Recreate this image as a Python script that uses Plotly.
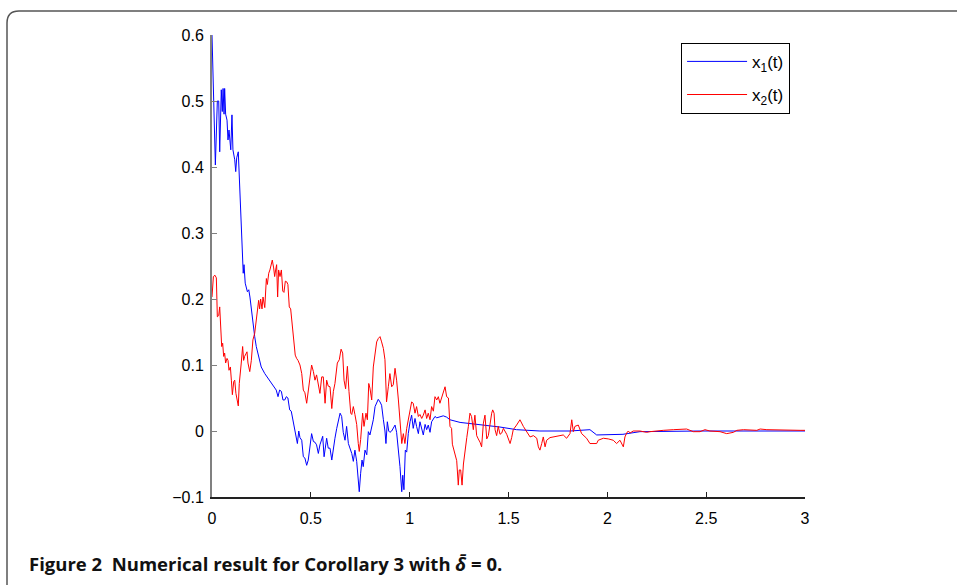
import plotly.graph_objects as go

# ---- data ----
t1 = [0.000, 0.010, 0.017, 0.027, 0.034, 0.039, 0.047, 0.052, 0.056, 0.061, 0.064, 0.069, 0.076, 0.081, 0.086,
      0.095, 0.101, 0.106, 0.115, 0.120, 0.125, 0.133, 0.140, 0.145, 0.148, 0.155, 0.158, 0.162, 0.168, 0.179,
      0.186, 0.192, 0.199, 0.207, 0.216, 0.224, 0.233, 0.249, 0.267, 0.283, 0.300, 0.317, 0.325, 0.334, 0.342,
      0.351, 0.359, 0.368, 0.376, 0.384, 0.393, 0.401, 0.410, 0.421, 0.432, 0.439, 0.445, 0.454, 0.462, 0.470,
      0.479, 0.487, 0.496, 0.504, 0.513, 0.521, 0.529, 0.538, 0.546, 0.555, 0.560, 0.567, 0.572, 0.580, 0.588,
      0.597, 0.606, 0.614, 0.622, 0.631, 0.639, 0.648, 0.656, 0.664, 0.673, 0.681, 0.690, 0.698, 0.707, 0.715,
      0.723, 0.732, 0.740, 0.745, 0.752, 0.759, 0.765, 0.774, 0.783, 0.791, 0.799, 0.808, 0.816, 0.825, 0.833,
      0.841, 0.850, 0.858, 0.867, 0.875, 0.880, 0.887, 0.894, 0.900, 0.909, 0.917, 0.926, 0.934, 0.943, 0.951,
      0.960, 0.965, 0.971, 0.978, 0.985, 0.993, 1.002, 1.010, 1.018, 1.027, 1.035, 1.044, 1.052, 1.061, 1.069,
      1.078, 1.086, 1.094, 1.103, 1.111, 1.120, 1.128, 1.137, 1.153, 1.170, 1.187, 1.204, 1.255, 1.320, 1.406,
      1.457, 1.541, 1.659, 1.811, 1.912, 1.946, 2.079, 2.165, 2.469, 3.000]
x1 = [0.600, 0.452, 0.403, 0.500, 0.500, 0.423, 0.517, 0.484, 0.519, 0.480, 0.519, 0.480, 0.471, 0.441, 0.456,
      0.426, 0.479, 0.426, 0.411, 0.393, 0.414, 0.423, 0.370, 0.320, 0.315, 0.259, 0.239, 0.252, 0.224, 0.211,
      0.214, 0.203, 0.183, 0.163, 0.143, 0.128, 0.115, 0.097, 0.087, 0.080, 0.072, 0.065, 0.062, 0.052, 0.062,
      0.060, 0.047, 0.047, 0.052, 0.050, 0.032, 0.030, 0.017, -0.004, -0.019, 0.000, -0.010, -0.014, -0.039, -0.041,
      -0.052, -0.044, -0.024, -0.004, -0.016, -0.017, -0.021, -0.034, -0.021, -0.011, -0.008, -0.039, -0.024, -0.011, -0.026,
      -0.026, -0.044, -0.024, -0.011, 0.004, 0.014, 0.027, 0.022, -0.002, -0.014, 0.007, -0.019, -0.026, -0.034, -0.046,
      -0.029, -0.046, -0.074, -0.092, -0.064, -0.044, -0.054, -0.029, -0.036, -0.001, -0.006, 0.007, 0.017, 0.037, 0.044,
      0.048, 0.044, 0.039, 0.017, 0.000, -0.019, 0.014, 0.000, -0.002, 0.000, 0.004, 0.009, -0.002, -0.026, -0.054,
      -0.092, -0.067, -0.089, -0.029, -0.032, -0.004, 0.014, 0.024, 0.004, 0.019, 0.007, -0.004, 0.014, 0.005, -0.006,
      0.010, 0.002, 0.009, -0.002, 0.014, 0.019, 0.022, 0.020, 0.021, 0.023, 0.021, 0.017, 0.013, 0.011, 0.008,
      0.006, 0.002, 0.000, 0.000, 0.002, -0.006, -0.005, -0.001, 0.000, 0.000]

t2 = [0.000, 0.007, 0.015, 0.022, 0.027, 0.034, 0.039, 0.044, 0.049, 0.054,
      0.059, 0.064, 0.069, 0.076, 0.081, 0.086, 0.093, 0.098, 0.103, 0.110,
      0.115, 0.121, 0.128, 0.133, 0.138, 0.143, 0.148, 0.155, 0.160, 0.165,
      0.170, 0.177, 0.182, 0.191, 0.199, 0.207, 0.216, 0.224, 0.229, 0.236,
      0.241, 0.246, 0.253, 0.258, 0.267, 0.275, 0.280, 0.287, 0.293, 0.300,
      0.305, 0.312, 0.317, 0.322, 0.327, 0.332, 0.337, 0.344, 0.351, 0.358,
      0.364, 0.371, 0.378, 0.384, 0.391, 0.398, 0.405, 0.411, 0.421, 0.428,
      0.435, 0.445, 0.454, 0.462, 0.470, 0.479, 0.487, 0.496, 0.504, 0.513,
      0.521, 0.529, 0.538, 0.546, 0.555, 0.563, 0.572, 0.580, 0.588, 0.597,
      0.606, 0.614, 0.622, 0.634, 0.644, 0.653, 0.661, 0.668, 0.676, 0.685,
      0.693, 0.702, 0.707, 0.715, 0.723, 0.732, 0.740, 0.745, 0.752, 0.762,
      0.769, 0.779, 0.786, 0.793, 0.799, 0.808, 0.816, 0.825, 0.833, 0.841,
      0.850, 0.858, 0.867, 0.875, 0.880, 0.883, 0.892, 0.900, 0.909, 0.917,
      0.926, 0.934, 0.943, 0.951, 0.960, 0.968, 0.976, 0.985, 0.993, 1.002,
      1.010, 1.018, 1.027, 1.035, 1.044, 1.052, 1.061, 1.069, 1.078, 1.086,
      1.094, 1.103, 1.111, 1.120, 1.128, 1.137, 1.145, 1.153, 1.162, 1.170,
      1.179, 1.187, 1.196, 1.204, 1.212, 1.216, 1.221, 1.229, 1.238, 1.246,
      1.251, 1.258, 1.265, 1.272, 1.280, 1.289, 1.297, 1.305, 1.313, 1.322,
      1.330, 1.339, 1.347, 1.356, 1.364, 1.373, 1.381, 1.390, 1.398, 1.406,
      1.415, 1.420, 1.427, 1.432, 1.440, 1.448, 1.457, 1.466, 1.474, 1.491,
      1.508, 1.516, 1.524, 1.541, 1.558, 1.575, 1.592, 1.609, 1.626, 1.643,
      1.651, 1.659, 1.668, 1.676, 1.685, 1.693, 1.710, 1.727, 1.752, 1.777,
      1.794, 1.811, 1.820, 1.828, 1.836, 1.853, 1.870, 1.895, 1.912, 1.946,
      1.954, 1.980, 2.005, 2.030, 2.047, 2.064, 2.081, 2.089, 2.098, 2.106,
      2.115, 2.131, 2.165, 2.199, 2.216, 2.266, 2.283, 2.334, 2.401, 2.418,
      2.435, 2.469, 2.494, 2.519, 2.570, 2.604, 2.638, 2.655, 2.689, 2.756,
      2.773, 2.807, 2.890, 2.975, 3.000]
x2 = [0.203, 0.234, 0.236, 0.232, 0.173, 0.175, 0.188, 0.160, 0.128, 0.133,
      0.113, 0.118, 0.103, 0.110, 0.107, 0.092, 0.097, 0.077, 0.055, 0.075,
      0.077, 0.057, 0.047, 0.038, 0.072, 0.085, 0.103, 0.128, 0.107, 0.113,
      0.116, 0.120, 0.103, 0.090, 0.107, 0.138, 0.148, 0.168, 0.183, 0.198,
      0.185, 0.200, 0.185, 0.203, 0.187, 0.231, 0.222, 0.239, 0.244, 0.252,
      0.259, 0.247, 0.234, 0.244, 0.252, 0.203, 0.244, 0.234, 0.244, 0.212,
      0.210, 0.227, 0.226, 0.222, 0.188, 0.185, 0.163, 0.150, 0.115, 0.110,
      0.107, 0.100, 0.087, 0.062, 0.058, 0.042, 0.062, 0.077, 0.100, 0.090,
      0.077, 0.085, 0.067, 0.057, 0.082, 0.082, 0.042, 0.077, 0.068, 0.067,
      0.034, 0.060, 0.072, 0.103, 0.108, 0.124, 0.118, 0.077, 0.064, 0.098,
      0.060, 0.027, 0.025, 0.037, 0.025, 0.010, -0.019, -0.031, -0.013, 0.027,
      0.007, 0.027, 0.017, 0.072, 0.065, 0.047, 0.097, 0.118, 0.135, 0.140,
      0.143, 0.135, 0.125, 0.108, 0.078, 0.044, 0.067, 0.087, 0.067, 0.070,
      0.095, 0.077, 0.047, 0.012, -0.019, -0.004, -0.019, 0.004, 0.017, 0.037,
      0.044, 0.042, 0.027, 0.037, 0.022, 0.025, 0.019, 0.024, 0.032, 0.019,
      0.027, 0.017, 0.037, 0.030, 0.052, 0.047, 0.052, 0.042, 0.052, 0.057,
      0.067, 0.052, 0.050, 0.007, 0.004, -0.020, -0.026, -0.034, -0.045, -0.082,
      -0.059, -0.059, -0.082, -0.050, -0.028, -0.010, 0.007, 0.027, 0.022, 0.002,
      0.024, -0.007, -0.012, -0.017, -0.024, 0.012, 0.024, -0.012, -0.007, 0.012,
      0.027, 0.032, 0.027, 0.002, -0.007, 0.007, -0.005, -0.003, 0.004, -0.005,
      -0.019, -0.010, 0.002, 0.009, 0.017, 0.007, -0.001, -0.009, -0.007, -0.011,
      -0.024, -0.029, -0.019, -0.009, -0.024, -0.014, -0.010, -0.009, -0.008, -0.006,
      -0.011, -0.004, 0.017, -0.001, 0.007, 0.009, -0.004, -0.011, -0.019, -0.019,
      -0.014, -0.011, -0.012, -0.014, -0.019, -0.014, -0.024, -0.009, -0.003, 0.000,
      -0.003, 0.000, 0.000, -0.002, -0.001, 0.001, 0.001, 0.002, 0.003, 0.001,
      -0.001, -0.001, 0.002, 0.000, -0.001, -0.004, -0.002, 0.001, 0.002, 0.001,
      0.003, 0.002, 0.001, 0.001, 0.001]

x_ticks = [0, 0.5, 1, 1.5, 2, 2.5, 3]
x_tick_text = ["0", "0.5", "1", "1.5", "2", "2.5", "3"]
y_ticks = [-0.1, 0, 0.1, 0.2, 0.3, 0.4, 0.5, 0.6]
y_tick_text = ["\u22120.1", "0", "0.1", "0.2", "0.3", "0.4", "0.5", "0.6"]
legend_names = ["x<sub>1</sub>(t)", "x<sub>2</sub>(t)"]
caption = "Figure 2  Numerical result for Corollary 3 with <i>δ\u0304</i> = 0."

fig = go.Figure()
fig.add_trace(go.Scatter(x=t1, y=x1, mode="lines", name=legend_names[0], legendgroup="a",
                         line=dict(color="#0000ff", width=1)))
fig.add_trace(go.Scatter(x=t2, y=x2, mode="lines", name=legend_names[1], legendgroup="b",
                         line=dict(color="#ff0000", width=1)))

tick_font = dict(family="Liberation Sans, Arial, sans-serif", size=16, color="#000000")

# plot area at x 212-805, y 35-497 (page body margin removed by post_script below)
fig.update_layout(
    width=957, height=585,
    margin=dict(l=212, r=152, t=35, b=88),
    paper_bgcolor="white", plot_bgcolor="white",
    showlegend=True,
    legend=dict(x=0.791, y=0.983, xanchor="left", yanchor="top",
                bgcolor="white", bordercolor="#000000", borderwidth=1,
                font=dict(family="Liberation Sans, Arial, sans-serif", size=17, color="#000000"),
                tracegroupgap=8, itemwidth=60),
    xaxis=dict(range=[0, 3], tickvals=x_ticks, ticktext=x_tick_text,
               showgrid=False, zeroline=False, showline=True, linecolor="#222222", linewidth=1.5,
               ticks="inside", ticklen=5, tickcolor="#222222", tickfont=tick_font,
               ticklabelstandoff=6),
    yaxis=dict(range=[-0.1, 0.6], tickvals=y_ticks, ticktext=y_tick_text,
               showgrid=False, zeroline=False, showline=True, linecolor="#808080", linewidth=2,
               ticks="inside", ticklen=5, tickcolor="#808080", tickfont=tick_font,
               ticklabelstandoff=3),
)

# rounded frame around the figure (partially off-page, as in the reference)
x0, xr = (7 - 212) / 593, (975 - 212) / 593
yt, yb = (497 - 11) / 462, (497 - 600) / 462
rx, ry = 12 / 593, 12 / 462
fig.add_shape(type="path", xref="paper", yref="paper",
              path=f"M {x0},{yb} L {x0},{yt - ry} Q {x0},{yt} {x0 + rx},{yt} L {xr},{yt}",
              line=dict(color="#555555", width=1.5))

fig.add_annotation(text=caption, xref="paper", yref="paper",
                   x=(27 - 212) / 593, y=(497 - 563) / 462, xanchor="left", yanchor="middle",
                   showarrow=False,
                   font=dict(family="Open Sans, Lato, sans-serif", size=18.5, color="#111111", weight="bold"))

fig.write_html("out.html", config={"displayModeBar": False},
               post_script="document.body.style.margin='0';document.body.style.padding='0';")
